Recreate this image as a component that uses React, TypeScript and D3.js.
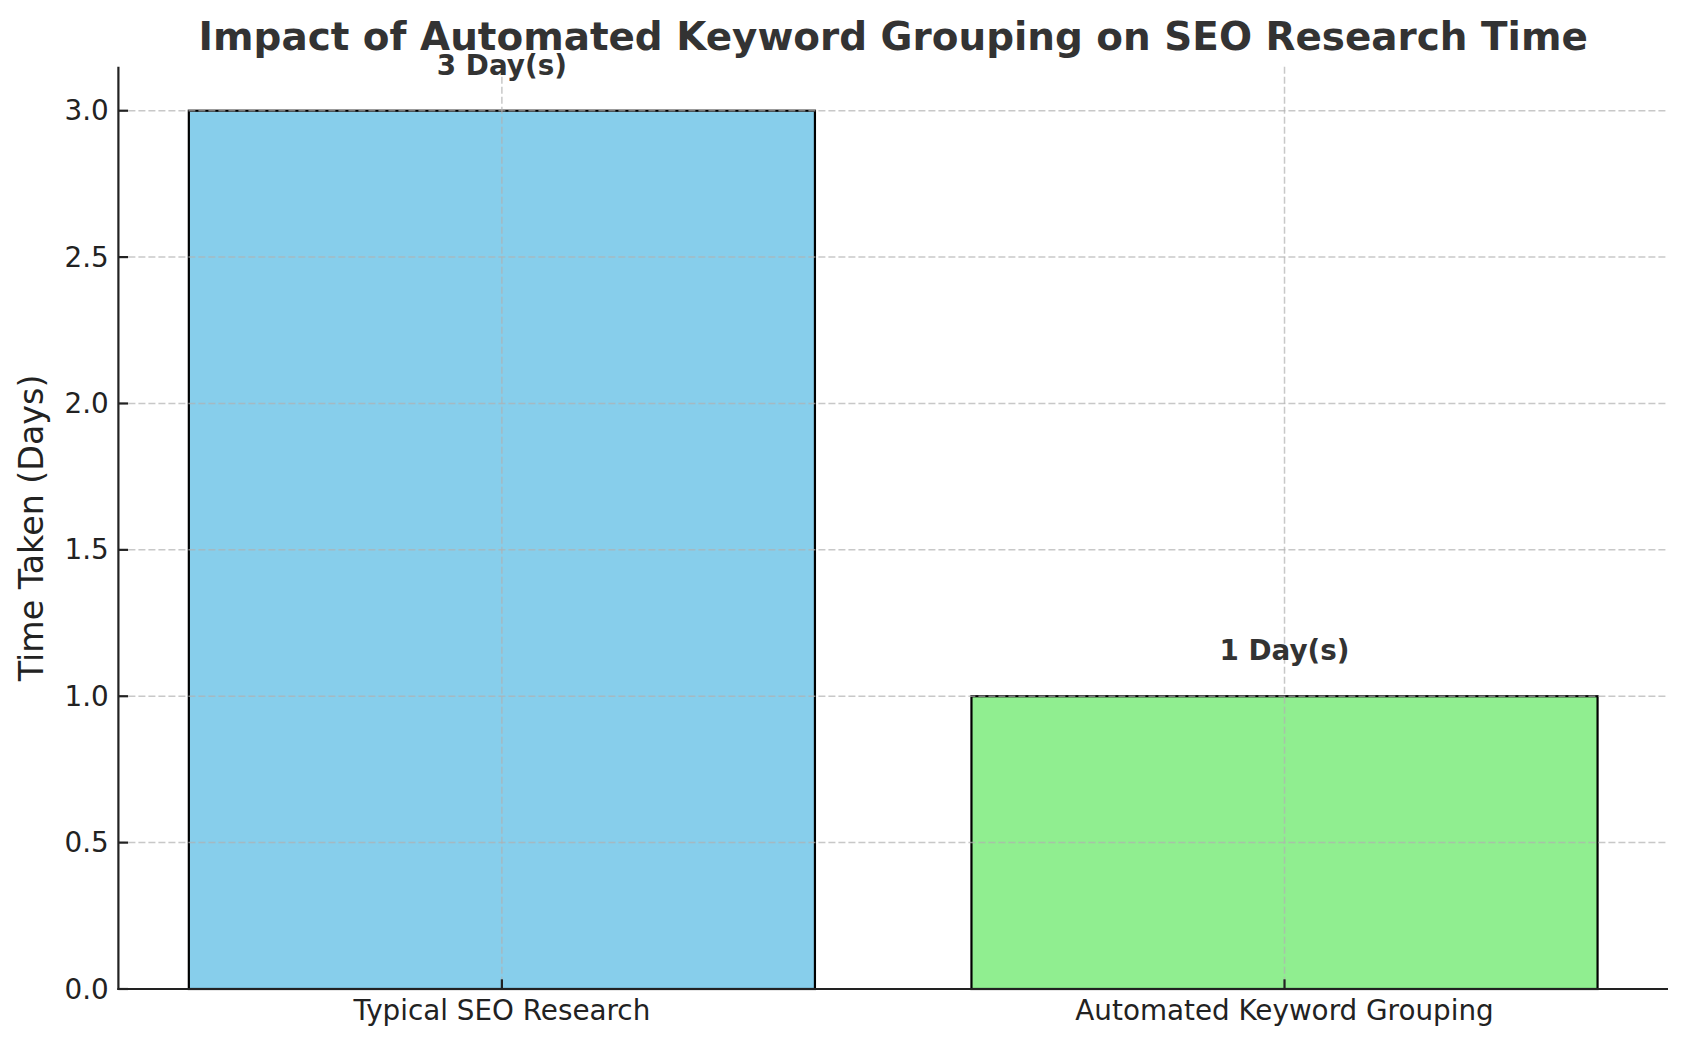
import React from "react";
import * as d3 from "d3";

const categories = ["Typical SEO Research", "Automated Keyword Grouping"];
const values = [3, 1];
const barColors = ["#87CEEB", "#90EE90"];
const yTicks = [0, 0.5, 1.0, 1.5, 2.0, 2.5, 3.0];

const W = 1688;
const H = 1048;
const left = 118.4;
const right = 1668;
const top = 66.8;
const bottom = 989;
const font = "DejaVu Sans, sans-serif";

const App = () => {
  const x = d3.scaleLinear().domain([-0.49, 1.49]).range([left, right]);
  const y = d3.scaleLinear().domain([0, 3.15]).range([bottom, top]);
  const barW = x(0.8) - x(0);

  const gridStyle = {
    stroke: "#b0b0b0",
    strokeOpacity: 0.7,
    strokeWidth: 1.5,
    strokeDasharray: "7,3",
  };

  return (
    <div style={{ position: "absolute", left: 0, top: 0 }}>
      <svg width={W} height={H} style={{ display: "block", background: "#fff" }} fontFamily={font}>
        {/* bars */}
        {values.map((v, i) => (
          <rect
            key={categories[i]}
            x={x(i) - barW / 2}
            y={y(v)}
            width={barW}
            height={y(0) - y(v)}
            fill={barColors[i]}
            stroke="#000"
            strokeWidth={2.2}
          />
        ))}

        {/* grid over bars, like matplotlib's default */}
        {yTicks.map((t) => (
          <line key={"gy" + t} x1={left} x2={right} y1={y(t)} y2={y(t)} {...gridStyle} />
        ))}
        {categories.map((c, i) => (
          <line key={"gx" + c} x1={x(i)} x2={x(i)} y1={top} y2={bottom} {...gridStyle} />
        ))}

        {/* spines */}
        <line x1={left} x2={left} y1={top} y2={bottom + 1} stroke="#222" strokeWidth={2.2} />
        <line x1={left - 1} x2={right} y1={bottom} y2={bottom} stroke="#222" strokeWidth={2.2} />

        {/* y ticks */}
        {yTicks.map((t) => (
          <g key={"ty" + t}>
            <line x1={left} x2={left + 9.7} y1={y(t)} y2={y(t)} stroke="#222" strokeWidth={2.2} />
            <text
              x={left - 9.7}
              y={y(t)}
              textAnchor="end"
              dominantBaseline="central"
              fontSize={27.8}
              fill="#222"
            >
              {t.toFixed(1)}
            </text>
          </g>
        ))}

        {/* x ticks */}
        {categories.map((c, i) => (
          <g key={"tx" + c}>
            <line x1={x(i)} x2={x(i)} y1={bottom} y2={bottom - 9.7} stroke="#222" strokeWidth={2.2} />
            <text x={x(i)} y={1020} textAnchor="middle" fontSize={27.8} fill="#222">
              {c}
            </text>
          </g>
        ))}

        {/* value labels */}
        {values.map((v, i) => (
          <text
            key={"lab" + i}
            x={x(i)}
            y={y(v + 0.1) - 6.6}
            textAnchor="middle"
            fontSize={27.8}
            fontWeight="bold"
            fill="#333"
          >
            {`${v} Day(s)`}
          </text>
        ))}

        {/* y axis label */}
        <text
          transform={`translate(43,${(top + bottom) / 2}) rotate(-90)`}
          textAnchor="middle"
          fontSize={33.3}
          fill="#222"
        >
          Time Taken (Days)
        </text>

        {/* title */}
        <text
          x={(left + right) / 2}
          y={49.5}
          textAnchor="middle"
          fontSize={38.9}
          fontWeight="bold"
          fill="#333"
        >
          Impact of Automated Keyword Grouping on SEO Research Time
        </text>
      </svg>
    </div>
  );
};

export default App;
